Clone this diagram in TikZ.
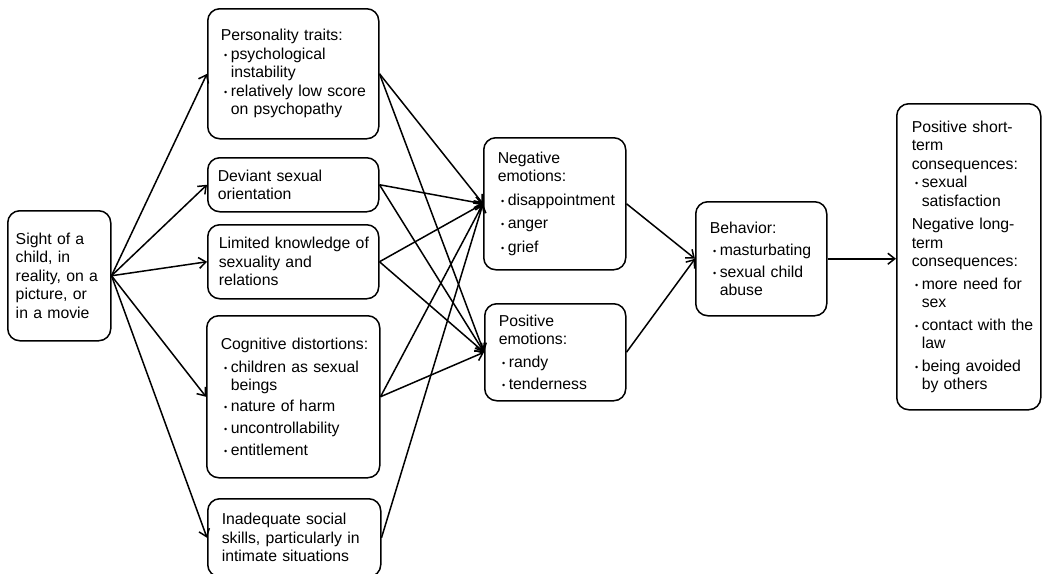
\documentclass[tikz,border=0pt]{standalone}
\usepackage{fontspec}
\setmainfont{Liberation Sans}
\usetikzlibrary{arrows.meta}
\newcommand\bu{\makebox[10pt][c]{\raisebox{1pt}{\fontsize{9}{9}\selectfont •}}}
\newcommand\ind{\hspace*{10pt}}
\begin{document}
\begin{tikzpicture}[x=1pt,y=-1pt,
  box/.style={draw, line width=1.5pt, rounded corners=12pt, align=left, anchor=north west,
    inner ysep=3pt, font=\fontsize{15.8}{18.5}\selectfont},
  arr/.style={line width=1.5pt, -{Straight Barb[length=7pt,width=11pt]}}]
\useasboundingbox (0,0) rectangle (1044,573);

\node[box, minimum width=103pt, minimum height=130pt, text width=87pt, inner xsep=8pt] (sight) at (7,210)
  {Sight of a\\child, in\\\mbox{reality, on a}\\picture, or\\in a movie};

\node[box, minimum width=171pt, minimum height=130pt, text width=145pt, inner xsep=13pt] (pers) at (207,8)
  {\mbox{Personality traits:}\\\bu psychological\\\ind instability\\\bu \mbox{relatively low score}\\\ind on psychopathy};

\node[box, minimum width=171pt, minimum height=54pt, text width=151pt, inner xsep=10pt] (dev) at (207,157)
  {Deviant sexual\\orientation};

\node[box, minimum width=171pt, minimum height=74pt, text width=149pt, inner xsep=11pt] (lim) at (207,224)
  {\mbox{Limited knowledge of}\\sexuality and\\relations};

\node[box, minimum width=171pt, minimum height=162pt, text width=145pt, inner xsep=14pt] (cog) at (206,315)
  {\mbox{Cognitive distortions:}\\[4pt]\bu \mbox{children as sexual}\\\ind beings\\[2pt]\bu nature of harm\\[4pt]\bu uncontrollability\\[3pt]\bu entitlement};

\node[box, minimum width=173pt, minimum height=78pt, text width=145pt, inner xsep=14pt] (inad) at (207,498)
  {Inadequate social\\\mbox{skills, particularly in}\\intimate situations};

\node[box, minimum width=142pt, minimum height=132pt, text width=114pt, inner xsep=14pt] (neg) at (483,137)
  {Negative\\emotions:\\[5pt]\bu \mbox{disappointment}\\[5pt]\bu anger\\[5pt]\bu grief};

\node[box, minimum width=141pt, minimum height=97pt, text width=113pt, inner xsep=14pt] (pos) at (484,303)
  {Positive\\emotions:\\[4pt]\bu randy\\[4pt]\bu tenderness};

\node[box, minimum width=131pt, minimum height=114pt, text width=103pt, inner xsep=14pt] (beh) at (695,201)
  {Behavior:\\[4pt]\bu \mbox{masturbating}\\[3pt]\bu \mbox{sexual child}\\\ind abuse};

\node[box, minimum width=144pt, minimum height=306pt, text width=114pt, inner xsep=15pt] (cons) at (896,103)
  {\mbox{Positive short-}\\term\\\mbox{consequences:}\\\bu sexual\\\ind satisfaction\\[5pt]\mbox{Negative long-}\\term\\\mbox{consequences:}\\[4pt]\bu \mbox{more need for}\\\ind sex\\[4pt]\bu \mbox{contact with the}\\\ind law\\[4pt]\bu \mbox{being avoided}\\\ind by others};

\foreach \t in {pers,dev,lim,cog,inad}
  \draw[arr] (sight.east) -- (\t.west);
\foreach \s in {pers,dev,lim,cog}{
  \draw[arr] (\s.east) -- (neg.west);
  \draw[arr] (\s.east) -- (pos.west);
}
\draw[arr] (inad.east) -- (neg.west);
\draw[arr] (neg.east) -- (beh.west);
\draw[arr] (pos.east) -- (beh.west);
\draw[arr] (beh.east) -- (beh.east -| cons.west);
\end{tikzpicture}
\end{document}
